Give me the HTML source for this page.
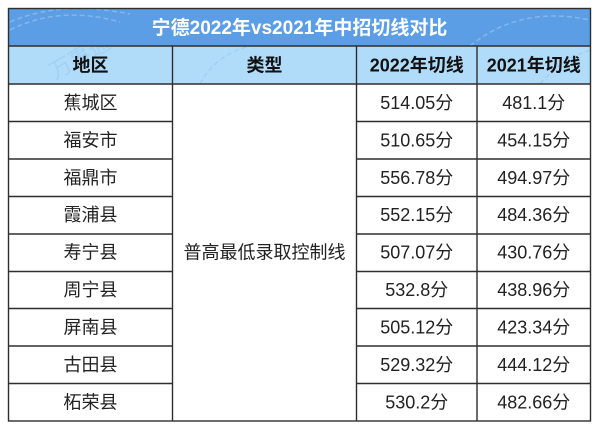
<!DOCTYPE html>
<html><head><meta charset="utf-8">
<style>
html,body{margin:0;padding:0;background:#fff;}
svg{display:block;}
text{font-family:"Liberation Sans","Noto Sans CJK SC",sans-serif;}
</style></head>
<body>
<svg width="600" height="431" viewBox="0 0 600 431" xmlns="http://www.w3.org/2000/svg">
<rect x="0" y="0" width="600" height="431" fill="#fff"/>
<!-- title bar -->
<rect x="8.5" y="8.5" width="582" height="37.5" fill="#5c9ee5"/>
<!-- header -->
<rect x="8.5" y="46" width="582" height="38" fill="#b0dcf9"/>
<!-- faint watermark arcs -->
<g fill="none" stroke="#ffffff" stroke-opacity="0.25" stroke-width="1.5" stroke-dasharray="5 3">
<path d="M10 30 Q60 5 120 22"/>
<path d="M10 22 Q60 0 130 14"/>
<path d="M470 46 Q520 5 590 20"/>
</g>
<g fill="none" stroke="#5c9ee5" stroke-opacity="0.25" stroke-width="1.2" stroke-dasharray="5 3">
<path d="M200 84 Q215 55 250 46"/>
<path d="M540 84 Q560 60 590 50"/>
</g>
<text x="55" y="80" font-size="22" fill="#5c9ee5" fill-opacity="0.18" transform="rotate(-30 55 80)">万事通</text>
<!-- text -->
<text x="299.5" y="34" font-size="19" font-weight="bold" fill="#fff" text-anchor="middle">宁德2022年vs2021年中招切线对比</text>
<g font-size="18" font-weight="bold" fill="#111" text-anchor="middle">
<text x="90.5" y="71.5">地区</text>
<text x="264.5" y="71.5">类型</text>
<text x="416.75" y="71.5">2022年切线</text>
<text x="533.75" y="71.5">2021年切线</text>
</g>
<g font-size="18" fill="#222" text-anchor="middle">
<text x="90.5" y="109">蕉城区</text>
<text x="90.5" y="146.5">福安市</text>
<text x="90.5" y="184">福鼎市</text>
<text x="90.5" y="221">霞浦县</text>
<text x="90.5" y="258.5">寿宁县</text>
<text x="90.5" y="296">周宁县</text>
<text x="90.5" y="333.5">屏南县</text>
<text x="90.5" y="371">古田县</text>
<text x="90.5" y="408.5">柘荣县</text>

<text x="264.5" y="258.5">普高最低录取控制线</text>

<text x="416.75" y="109">514.05分</text>
<text x="416.75" y="146.5">510.65分</text>
<text x="416.75" y="184">556.78分</text>
<text x="416.75" y="221">552.15分</text>
<text x="416.75" y="258.5">507.07分</text>
<text x="416.75" y="296">532.8分</text>
<text x="416.75" y="333.5">505.12分</text>
<text x="416.75" y="371">529.32分</text>
<text x="416.75" y="408.5">530.2分</text>

<text x="533.75" y="109">481.1分</text>
<text x="533.75" y="146.5">454.15分</text>
<text x="533.75" y="184">494.97分</text>
<text x="533.75" y="221">484.36分</text>
<text x="533.75" y="258.5">430.76分</text>
<text x="533.75" y="296">438.96分</text>
<text x="533.75" y="333.5">423.34分</text>
<text x="533.75" y="371">444.12分</text>
<text x="533.75" y="408.5">482.66分</text>
</g>
<!-- grid lines -->
<g stroke="#2e2e2e" stroke-width="1.4" fill="none">
<rect x="8.5" y="8.5" width="582" height="412.5"/>
<line x1="8.5" y1="46" x2="590.5" y2="46"/>
<line x1="8.5" y1="84" x2="590.5" y2="84"/>
<line x1="172.5" y1="46" x2="172.5" y2="421"/>
<line x1="356.5" y1="46" x2="356.5" y2="421"/>
<line x1="477" y1="46" x2="477" y2="421"/>
<line x1="8.5" y1="121.5" x2="172.5" y2="121.5"/>
<line x1="8.5" y1="159" x2="172.5" y2="159"/>
<line x1="8.5" y1="196.5" x2="172.5" y2="196.5"/>
<line x1="8.5" y1="234" x2="172.5" y2="234"/>
<line x1="8.5" y1="271.5" x2="172.5" y2="271.5"/>
<line x1="8.5" y1="308.5" x2="172.5" y2="308.5"/>
<line x1="8.5" y1="346" x2="172.5" y2="346"/>
<line x1="8.5" y1="383.5" x2="172.5" y2="383.5"/>
<line x1="356.5" y1="121.5" x2="590.5" y2="121.5"/>
<line x1="356.5" y1="159" x2="590.5" y2="159"/>
<line x1="356.5" y1="196.5" x2="590.5" y2="196.5"/>
<line x1="356.5" y1="234" x2="590.5" y2="234"/>
<line x1="356.5" y1="271.5" x2="590.5" y2="271.5"/>
<line x1="356.5" y1="308.5" x2="590.5" y2="308.5"/>
<line x1="356.5" y1="346" x2="590.5" y2="346"/>
<line x1="356.5" y1="383.5" x2="590.5" y2="383.5"/>
</g>
</svg>
</body></html>
